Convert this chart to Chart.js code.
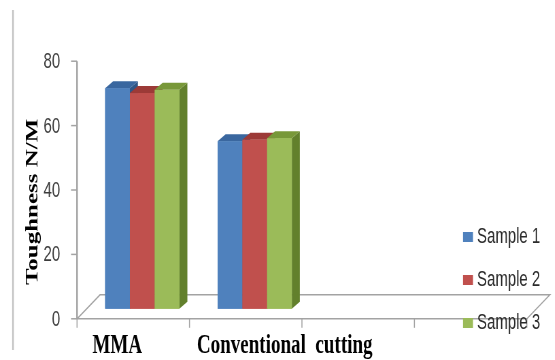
<!DOCTYPE html>
<html>
<head>
<meta charset="utf-8">
<script src="https://cdn.jsdelivr.net/npm/chart.js@4"></script>
<style>
    html, body { margin: 0; padding: 0; background: #fff; overflow: hidden; }
    #wrap { width: 816px; height: 360px; transform: scaleX(0.68); transform-origin: 0 0; }
</style>
</head>
<body>
<div id="wrap"><canvas id="toughChart" width="816" height="360"></canvas></div>
<script>
const categories = ["MMA", "Conventional  cutting", "", ""];
const seriesNames = ["Sample 1", "Sample 2", "Sample 3"];
const sample1 = [68.5, 52, null, null];
const sample2 = [67, 52.5, null, null];
const sample3 = [68, 53, null, null];
const yTicks = [0, 20, 40, 60, 80];

// canvas is squeezed horizontally by the wrapper, so x offsets are divided by SX
const SX = 0.68;
const FRONT = { dx: -9 / SX, dy: 10 };   // front edge of the floor
const BACK = { dx: 14 / SX, dy: -14 };   // back edge of the floor
const BOX = { dx: 8 / SX, dy: -7 };      // column depth

const faces = [
    { front: "#4f81bd", top: "#3a679f", side: "#2f5686" },
    { front: "#c0504d", top: "#9c3a37", side: "#863130" },
    { front: "#9bbb59", top: "#789839", side: "#62802c" }
];
const labelShift = [-25 / SX, 30 / SX];

const floorPlugin = {
    id: "floor3d",
    beforeDatasetsDraw(chart) {
        const ctx = chart.ctx;
        const x = chart.scales.x;
        const y = chart.scales.y;
        const area = chart.chartArea;
        const y0 = y.getPixelForValue(0);

        ctx.save();
        // frame line on the far left
        ctx.strokeStyle = "#c4c4c4";
        ctx.lineWidth = 2.5;
        ctx.beginPath();
        ctx.moveTo(13 / SX, 10);
        ctx.lineTo(13 / SX, 350);
        ctx.stroke();

        ctx.strokeStyle = "#a3a3a3";
        ctx.lineWidth = 1.5;
        const fl = area.left + FRONT.dx, fr = area.right + FRONT.dx, fy = y0 + FRONT.dy;
        const bl = area.left + BACK.dx, br = area.right + BACK.dx, by = y0 + BACK.dy;
        ctx.beginPath();
        ctx.moveTo(fl, fy); ctx.lineTo(fr, fy);
        ctx.lineTo(br, by); ctx.lineTo(bl, by);
        ctx.lineTo(fl, fy);
        ctx.stroke();

        // category ticks on the front edge
        const catW = x.getPixelForValue(1) - x.getPixelForValue(0);
        for (let i = 0; i <= categories.length; i++) {
            const px = x.getPixelForValue(0) - catW / 2 + i * catW + FRONT.dx;
            ctx.beginPath();
            ctx.moveTo(px, fy);
            ctx.lineTo(px, fy + 9);
            ctx.stroke();
        }

        // value axis on the front left edge
        ctx.lineWidth = 2.5;
        ctx.beginPath();
        ctx.moveTo(fl, y.getPixelForValue(80) + FRONT.dy);
        ctx.lineTo(fl, fy);
        ctx.stroke();
        ctx.lineWidth = 1.5;
        y.ticks.forEach(t => {
            const py = y.getPixelForValue(t.value) + FRONT.dy;
            ctx.beginPath();
            ctx.moveTo(fl - 6 / SX, py);
            ctx.lineTo(fl, py);
            ctx.stroke();
        });
        ctx.restore();
    },
    afterDatasetsDraw(chart) {
        const ctx = chart.ctx;
        ctx.save();
        for (let i = 0; i < categories.length; i++) {
            chart.data.datasets.forEach((ds, d) => {
                if (ds.data[i] == null) return;
                const el = chart.getDatasetMeta(d).data[i];
                const { x, y, base, width } = el.getProps(["x", "y", "base", "width"], true);
                const l = x - width / 2, r = x + width / 2;
                const c = faces[d];

                ctx.fillStyle = c.side;
                ctx.beginPath();
                ctx.moveTo(r, y); ctx.lineTo(r + BOX.dx, y + BOX.dy);
                ctx.lineTo(r + BOX.dx, base + BOX.dy); ctx.lineTo(r, base);
                ctx.closePath(); ctx.fill();

                ctx.fillStyle = c.top;
                ctx.beginPath();
                ctx.moveTo(l, y); ctx.lineTo(r, y);
                ctx.lineTo(r + BOX.dx, y + BOX.dy); ctx.lineTo(l + BOX.dx, y + BOX.dy);
                ctx.closePath(); ctx.fill();

                ctx.fillStyle = c.front;
                ctx.fillRect(l, y, width, base - y);
            });
        }
        ctx.restore();
    },
    afterDraw(chart) {
        const ctx = chart.ctx;
        const x = chart.scales.x;
        ctx.save();

        // category names under the floor
        ctx.fillStyle = "#000";
        ctx.font = "bold 28px 'Liberation Serif', 'Times New Roman', serif";
        ctx.textAlign = "center";
        ctx.textBaseline = "alphabetic";
        categories.forEach((name, i) => {
            if (!name) return;
            ctx.fillText(name, x.getPixelForValue(i) + labelShift[i], 353);
        });

        // legend
        ctx.font = "22px 'Liberation Sans', Arial, sans-serif";
        ctx.textAlign = "left";
        ctx.textBaseline = "middle";
        chart.data.datasets.forEach((ds, d) => {
            const cy = 237 + d * 43;
            ctx.fillStyle = ds.backgroundColor;
            ctx.fillRect(463 / SX, cy - 5, 10 / SX, 10);
            ctx.fillStyle = "#2b2b2b";
            ctx.fillText(ds.label, 477 / SX, cy);
        });
        ctx.restore();
    }
};

const ctx = document.getElementById("toughChart").getContext("2d");

new Chart(ctx, {
    type: "bar",
    data: {
        labels: categories,
        datasets: [
            { label: seriesNames[0], data: sample1, backgroundColor: faces[0].front },
            { label: seriesNames[1], data: sample2, backgroundColor: faces[1].front },
            { label: seriesNames[2], data: sample3, backgroundColor: faces[2].front }
        ]
    },
    options: {
        responsive: false,
        animation: false,
        devicePixelRatio: 1,
        layout: { padding: { left: 0, right: 28, top: 44, bottom: 41 } },
        datasets: {
            bar: { barPercentage: 1, categoryPercentage: 0.66, borderWidth: 0 }
        },
        plugins: {
            legend: { display: false },
            tooltip: { enabled: false }
        },
        scales: {
            x: { display: false },
            y: {
                min: 0,
                max: 80,
                afterBuildTicks: scale => { scale.ticks = yTicks.map(v => ({ value: v })); },
                afterFit: scale => { scale.width = 126.5; },
                grid: { display: false, drawTicks: false },
                border: { display: false },
                ticks: {
                    padding: 38,
                    labelOffset: 11,
                    color: "#3c3c3c",
                    font: { family: "'Liberation Sans', Arial, sans-serif", size: 22 }
                },
                title: {
                    display: true,
                    text: "Toughness N/M       ",
                    color: "#000",
                    padding: { top: 34, bottom: 0 },
                    font: { family: "'Liberation Serif', 'Times New Roman', serif", size: 25, weight: "bold" }
                }
            }
        }
    },
    plugins: [floorPlugin]
});
</script>
</body>
</html>
